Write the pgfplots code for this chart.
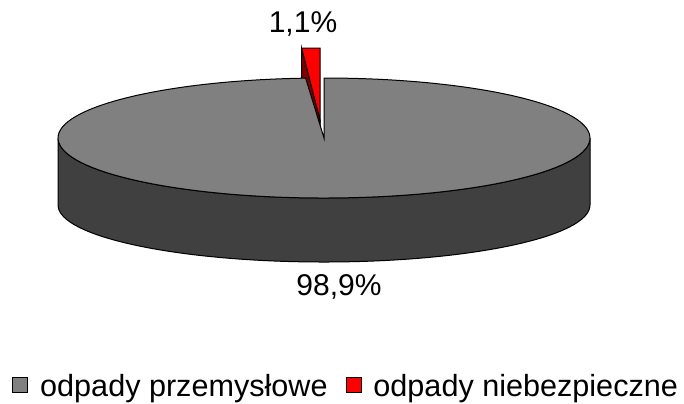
\documentclass[border=0pt]{standalone}
\usepackage{pgfplots}
\pgfplotsset{compat=1.18}
\usepackage{fontspec}
\setmainfont{Liberation Sans}
\definecolor{topgray}{HTML}{808080}
\definecolor{sidegray}{HTML}{404040}
\definecolor{pred}{HTML}{FF0000}
\definecolor{pdarkred}{HTML}{800000}
\begin{document}
\begin{tikzpicture}
% data (percent)
\def\valA{98.9}\def\valB{1.1}
% geometry in pixel units (1 px = 0.5pt)
\def\cx{324}\def\cy{138}\def\rx{266}\def\ry{60}\def\dep{67}
\pgfmathsetmacro\aEnd{90+3.6*\valB}
\pgfmathsetmacro\gx{\cx+\rx*cos(\aEnd)}
\pgfmathsetmacro\gy{\cy-\ry*sin(\aEnd)}
\pgfmathsetmacro\xl{\cx-\rx}
\pgfmathsetmacro\xr{\cx+\rx}
\pgfmathsetmacro\yb{\cy+\dep}
% exploded slice
\def\ax{320}\def\ay{120}\def\ryr{72}\def\hr{31}
\pgfmathsetmacro\rxs{\ax}
\pgfmathsetmacro\rys{\ay-\ryr}
\pgfmathsetmacro\rxe{\ax+\rx*cos(\aEnd)}
\pgfmathsetmacro\rye{\ay-\ryr*sin(\aEnd)}
\pgfmathsetmacro\ryeh{\rye+\hr}
\pgfmathsetmacro\ayh{\ay+\hr}
\begin{axis}[
  x=0.5pt, y=0.5pt, y dir=reverse,
  xmin=0, xmax=684, ymin=0, ymax=403,
  hide axis, clip=false,
  legend columns=2,
  legend cell align=left,
  legend style={draw=none, fill=none, at={(axis cs:12,400)}, anchor=south west,
    font=\fontsize{15.3}{18}\selectfont, inner sep=0pt,
    nodes={inner ysep=0pt},
    /tikz/every odd column/.append style={column sep=4pt},
    /tikz/every even column/.append style={column sep=7pt}},
]
\addlegendimage{legend image code/.code={\draw[fill=topgray,draw=black,line width=0.4pt] (0pt,-2.5pt) rectangle (7.5pt,5pt);}}
\addlegendentry{odpady przemysłowe}
\addlegendimage{legend image code/.code={\draw[fill=pred,draw=black,line width=0.4pt] (0pt,-2.5pt) rectangle (7.5pt,5pt);}}
\addlegendentry{odpady niebezpieczne}
\path (axis cs:0,0) rectangle (axis cs:684,403);
% side of the large slice
\filldraw[fill=sidegray, draw=black, line width=0.5pt] (axis cs:\xl,\cy) -- (axis cs:\xl,\yb)
  arc[start angle=180, end angle=360, x radius=133pt, y radius=28.5pt]
  -- (axis cs:\xr,\cy)
  arc[start angle=0, end angle=-180, x radius=133pt, y radius=30pt] -- cycle;
% radial face of the exploded slice
\filldraw[fill=pdarkred, draw=black, line width=0.5pt] (axis cs:\rxe,\rye) -- (axis cs:\rxe,\ryeh) -- (axis cs:\ax,\ayh) -- (axis cs:\ax,\ay) -- cycle;
% top of the large slice
\filldraw[fill=topgray, draw=black, line width=0.5pt] (axis cs:\cx,\cy) -- (axis cs:\gx,\gy)
  arc[start angle=\aEnd, end angle=450, x radius=133pt, y radius=30pt] -- cycle;
% top of the exploded slice
\filldraw[fill=pred, draw=black, line width=0.5pt] (axis cs:\ax,\ay) -- (axis cs:\rxs,\rys)
  arc[start angle=90, end angle=\aEnd, x radius=133pt, y radius=36pt] -- cycle;
% data labels
\node[anchor=base, font=\fontsize{15}{18}\selectfont, inner sep=0pt] at (axis cs:303,32) {1,1\%};
\node[anchor=base, font=\fontsize{15}{18}\selectfont, inner sep=0pt] at (axis cs:339,295) {98,9\%};
\end{axis}
\end{tikzpicture}
\end{document}
